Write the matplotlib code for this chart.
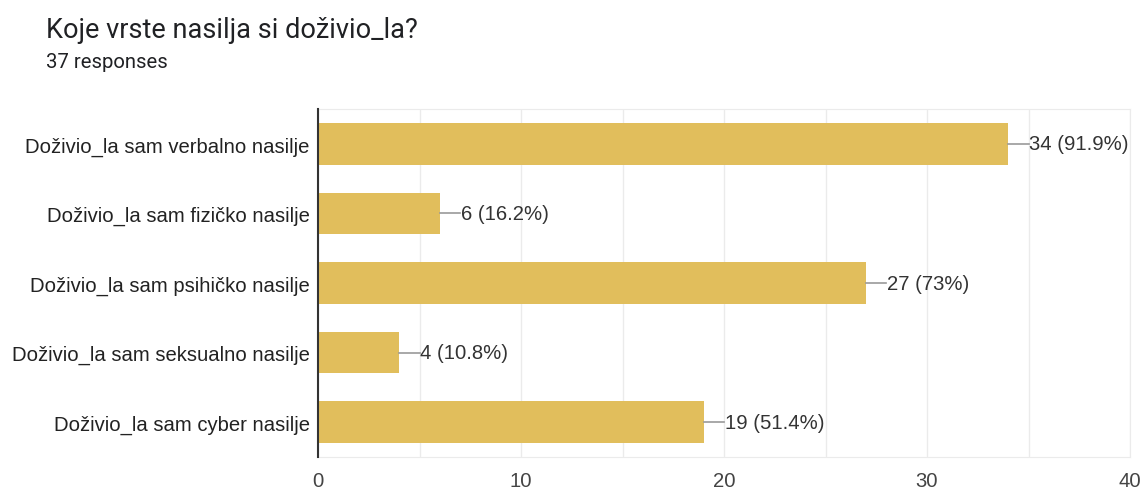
import matplotlib.pyplot as plt

plt.rcParams['font.family'] = ['Roboto', 'DejaVu Sans']

categories = [
    "Doživio_la sam verbalno nasilje",
    "Doživio_la sam fizičko nasilje",
    "Doživio_la sam psihičko nasilje",
    "Doživio_la sam seksualno nasilje",
    "Doživio_la sam cyber nasilje",
]
counts = [34, 6, 27, 4, 19]
percents = ["91.9%", "16.2%", "73%", "10.8%", "51.4%"]
total = 37
xticks = [0, 10, 20, 30, 40]

fig = plt.figure(figsize=(11.42, 4.89), dpi=100)
ax = fig.add_axes([0.2785, 0.0634, 0.711, 0.7116])

chart_font = ['Liberation Sans', 'DejaVu Sans']

ypos = range(len(categories))
ax.barh(ypos, counts, height=0.6, color='#E1BE5C', zorder=3)

# leader lines + labels
for y, c, p in zip(ypos, counts, percents):
    ax.plot([c, c + 1.0], [y, y], color='#999999', lw=1.2, zorder=3)
    ax.text(c + 1.03, y, f"{c} ({p})", va='center', ha='left',
            fontsize=14.6, color='#333333', family=chart_font)

ax.set_xlim(0, 40)
ax.set_ylim(4.5, -0.5)
ax.set_yticks(list(ypos))
ax.set_yticklabels(categories, fontsize=14.6, color='#222222', family=chart_font)
ax.set_xticks(xticks)
ax.set_xticklabels([str(t) for t in xticks], fontsize=14.6, color='#444444',
                   family=chart_font)
ax.set_xticks(range(0, 41, 5), minor=True)
ax.tick_params(axis='both', length=0, pad=6)
ax.tick_params(axis='x', which='minor', length=0)
ax.tick_params(axis='x', pad=10)
ax.grid(axis='x', which='both', color='#EBEBEB', lw=1, zorder=0)

for side in ['top', 'right', 'bottom']:
    ax.spines[side].set_color('#EBEBEB')
ax.spines['left'].set_color('#333333')
ax.spines['left'].set_linewidth(1.5)
ax.spines['left'].set_zorder(4)

fig.text(46 / 1142, 1 - 30 / 489, "Koje vrste nasilja si doživio_la?",
         fontsize=19.5, color='#202124', va='center', ha='left')
fig.text(46 / 1142, 1 - 62 / 489, f"{total} responses",
         fontsize=14.6, color='#202124', va='center', ha='left')

fig.savefig('out.png', dpi=100)
